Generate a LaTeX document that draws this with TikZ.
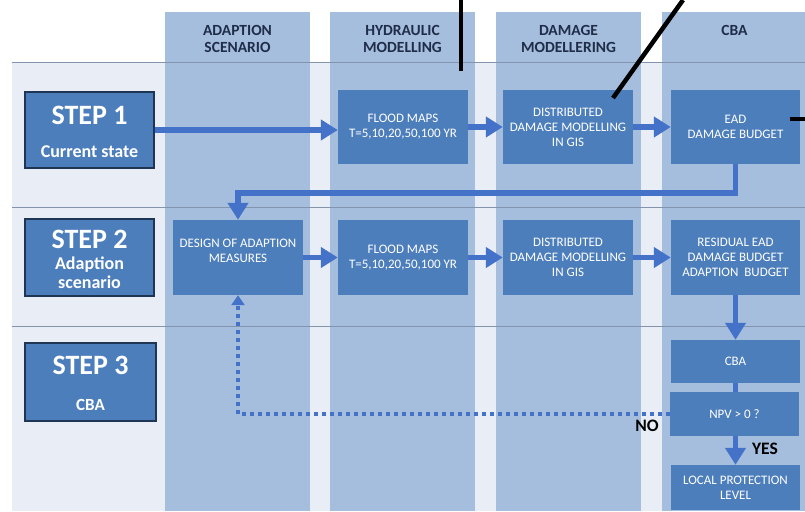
\documentclass[tikz,border=0pt]{standalone}
\usepackage{fontspec}
\setmainfont{Carlito}
\usetikzlibrary{arrows.meta}
\definecolor{bglight}{HTML}{E9EEF6}
\definecolor{colblue}{HTML}{A5BEDD}
\definecolor{boxblue}{HTML}{4D7EBC}
\definecolor{arrblue}{HTML}{4472C8}
\definecolor{navy}{HTML}{1F3554}
\definecolor{hdrtext}{HTML}{1F2D48}
\definecolor{sepgray}{HTML}{8494AC}
\begin{document}
\begin{tikzpicture}[x=1pt,y=-1pt,
  box/.style={fill=boxblue, draw=none, text=white, align=center, inner sep=0pt,
    minimum width=130pt, font=\fontsize{13}{15}\selectfont},
  boxtext/.style={text=white, align=center, inner sep=0pt, font=\fontsize{13}{15}\selectfont},
  stepbox/.style={fill=boxblue, draw=navy, line width=2pt, text=white, align=center,
    inner sep=0pt, minimum width=129pt},
  hdr/.style={text=hdrtext, align=center, inner sep=0pt, font=\bfseries\fontsize{15.5}{17}\selectfont},
  lbl/.style={text=black, inner sep=0pt, font=\bfseries\fontsize{17.5}{19}\selectfont},
  flow/.style={draw=arrblue, line width=5.5pt, -{Triangle[length=17pt,width=20pt]}},
  link/.style={draw=arrblue, line width=5.5pt},
  noflow/.style={draw=arrblue, line width=3.5pt, dash pattern=on 3.5pt off 4.5pt,
    -{Triangle[length=10pt,width=13pt]}},
  blackmark/.style={draw=black, line width=4.5pt},
  colband/.style={fill=colblue, draw=none},
  sep/.style={draw=sepgray, line width=0.8pt}]
\useasboundingbox (0,0) rectangle (805,511);
\fill[white] (0,0) rectangle (805,511);
% light background
\fill[bglight] (12,62) rectangle (805,511);
% columns
\fill[colband] (165,12.5) rectangle (310,511);
\fill[colband] (330,12.5) rectangle (475,511);
\fill[colband] (496,12.5) rectangle (641,511);
\fill[colband] (662,12.5) rectangle (805,511);
% row separators
\draw[sep] (12,62) -- (805,62);
\draw[sep] (12,207) -- (805,207);
\draw[sep] (12,326) -- (805,326);
% headers
\node[hdr] (hA) at (237.5,38.5) {ADAPTION\\SCENARIO};
\node[hdr] (hH) at (402.5,38.5) {HYDRAULIC\\MODELLING};
\node[hdr] (hD) at (568.5,38.5) {DAMAGE\\MODELLERING};
\node[hdr] (hC) at (734.5,30) {CBA};
% step boxes
\node[stepbox, minimum height=76pt] (step1) at (89.5,130) {};
\node[text=white, inner sep=0pt, font=\bfseries\fontsize{28}{30}\selectfont] (s1a) at (89.5,115) {STEP 1};
\node[text=white, inner sep=0pt, font=\bfseries\fontsize{18}{19}\selectfont] (s1b) at (89.5,152) {Current state};
\node[stepbox, minimum height=77pt] (step2) at (89.5,257.5) {};
\node[text=white, inner sep=0pt, font=\bfseries\fontsize{28}{30}\selectfont] (s2a) at (89.5,239) {STEP 2};
\node[text=white, inner sep=0pt, align=center, font=\bfseries\fontsize{18}{19}\selectfont] (s2b) at (89.5,273) {Adaption\\scenario};
\node[stepbox, minimum width=131pt, minimum height=78pt] (step3) at (90.5,382) {};
\node[text=white, inner sep=0pt, font=\bfseries\fontsize{28}{30}\selectfont] (s3a) at (90.5,365) {STEP 3};
\node[text=white, inner sep=0pt, font=\bfseries\fontsize{17}{18}\selectfont] (s3b) at (90.5,405) {CBA};
% row 1
\node[box, minimum height=74pt] (flood1) at (403,127) {FLOOD MAPS\\T=5,10,20,50,100 YR};
\node[box, minimum height=74pt] (dist1) at (568,127) {DISTRIBUTED\\DAMAGE MODELLING\\IN GIS};
\node[box, minimum width=129pt, minimum height=74pt] (ead1) at (735.5,127) {EAD\\DAMAGE BUDGET};
% row 2
\node[box, minimum height=75pt] (design) at (238,257.5) {};
\node[boxtext] (designtxt) at (238,250.5) {DESIGN OF ADAPTION\\MEASURES};
\node[box, minimum height=75pt] (flood2) at (403,257.5) {FLOOD MAPS\\T=5,10,20,50,100 YR};
\node[box, minimum height=75pt] (dist2) at (568,257.5) {DISTRIBUTED\\DAMAGE MODELLING\\IN GIS};
\node[box, minimum width=129pt, minimum height=75pt] (resid) at (735.5,257.5) {RESIDUAL EAD\\DAMAGE BUDGET\\ADAPTION\ \ BUDGET};
% row 3
\node[box, minimum width=129pt, minimum height=43pt] (cba) at (735.5,361.5) {CBA};
\node[box, minimum width=129pt, minimum height=44pt] (npv) at (734.5,414) {NPV > 0 ?};
\node[box, minimum width=129pt, minimum height=45pt] (local) at (735.5,487.5) {LOCAL PROTECTION\\LEVEL};
% connectors
\draw[flow] (step1.east) -- (flood1.west |- step1.east);
\draw[flow] (flood1.east) -- (dist1.west);
\draw[flow] (dist1.east) -- (ead1.west);
\draw[flow] (ead1.south) -- ++(0,29) -| (design.north);
\draw[flow] (design.east) -- (flood2.west);
\draw[flow] (flood2.east) -- (dist2.west);
\draw[flow] (dist2.east) -- (resid.west);
\draw[flow] (resid.south) -- (cba.north);
\draw[link] (cba.south) -- (cba.south |- npv.north);
\draw[flow] (npv.south -| local.north) -- (local.north);
\draw[noflow] (npv.west) -| (design.south);
\node[lbl] (no) at (647,426) {NO};
\node[lbl] (yes) at (765,449) {YES};
% black marks
\coordinate (m1a) at (461,0); \coordinate (m1b) at (461,71);
\coordinate (m2a) at (683,0); \coordinate (m2b) at (613,98);
\coordinate (m3a) at (790,119); \coordinate (m3b) at (805,119);
\draw[blackmark] (m1a) -- (m1b);
\draw[blackmark] (m2a) -- (m2b);
\draw[blackmark] (m3a) -- (m3b);
\end{tikzpicture}
\end{document}
